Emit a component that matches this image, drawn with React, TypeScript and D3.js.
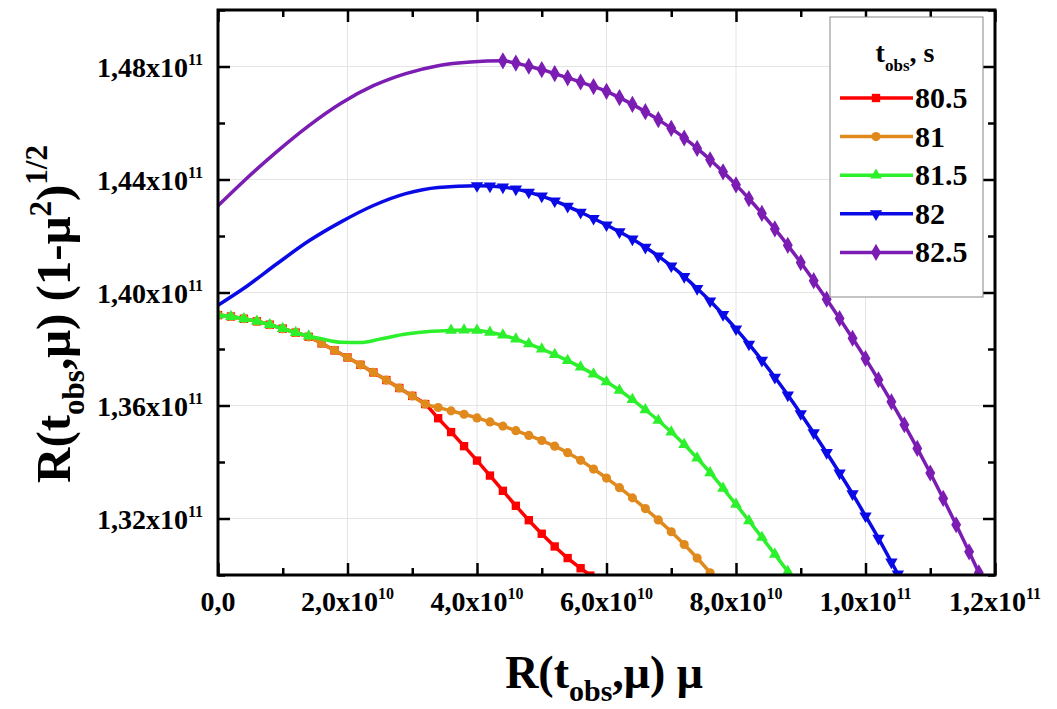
import React, { useEffect, useRef } from "react";
import * as d3 from "d3";

// t_obs of each curve, seconds
const tObs = ["80.5", "81", "81.5", "82", "82.5"];

// x = R(t_obs,mu) mu in units of 1e10, y = R(t_obs,mu) (1-mu^2)^1/2 in units of 1e11
const x805 = [0, 0.2, 0.4, 0.6, 0.8, 1.0, 1.2, 1.4, 1.6, 1.8, 2.0, 2.2, 2.4, 2.6, 2.8, 3.0, 3.2, 3.4, 3.6, 3.8, 4.0, 4.2, 4.4, 4.6, 4.8, 5.0, 5.2, 5.4, 5.6, 5.75];
const y805 = [1.392, 1.3915, 1.3907, 1.3898, 1.3886, 1.3872, 1.3858, 1.3843, 1.382, 1.3795, 1.377, 1.3744, 1.3717, 1.369, 1.3662, 1.3634, 1.3605, 1.3555, 1.3506, 1.3456, 1.3405, 1.3352, 1.3298, 1.3245, 1.3194, 1.3146, 1.3101, 1.306, 1.3024, 1.2998];

const x81 = [0, 0.2, 0.4, 0.6, 0.8, 1.0, 1.2, 1.4, 1.6, 1.8, 2.0, 2.2, 2.4, 2.6, 2.8, 3.0, 3.2, 3.4, 3.6, 3.8, 4.0, 4.2, 4.4, 4.6, 4.8, 5.0, 5.2, 5.4, 5.6, 5.8, 6.0, 6.2, 6.4, 6.6, 6.8, 7.0, 7.2, 7.4, 7.6, 7.7];
const y81 = [1.392, 1.3915, 1.3907, 1.3898, 1.3886, 1.3872, 1.3858, 1.3843, 1.382, 1.3795, 1.377, 1.3744, 1.3717, 1.369, 1.3662, 1.3634, 1.3605, 1.3593, 1.3581, 1.3569, 1.3556, 1.3542, 1.3527, 1.3511, 1.3494, 1.3476, 1.3456, 1.3433, 1.3406, 1.3375, 1.3343, 1.3309, 1.3273, 1.3235, 1.3195, 1.3153, 1.3108, 1.306, 1.3008, 1.298];

const x815 = [0, 0.2, 0.4, 0.6, 0.8, 1.0, 1.2, 1.4, 1.6, 1.9, 2.2, 2.5, 2.9, 3.3, 3.6, 3.8, 4.0, 4.2, 4.4, 4.6, 4.8, 5.0, 5.2, 5.4, 5.6, 5.8, 6.0, 6.2, 6.4, 6.6, 6.8, 7.0, 7.2, 7.4, 7.6, 7.8, 8.0, 8.2, 8.4, 8.6, 8.8, 8.9];
const y815 = [1.392, 1.3915, 1.3907, 1.3898, 1.3886, 1.3872, 1.3858, 1.3846, 1.3836, 1.3824, 1.3823, 1.3835, 1.3853, 1.3863, 1.3866, 1.3867, 1.3866, 1.3859, 1.3849, 1.3835, 1.3818, 1.38, 1.378, 1.3759, 1.3736, 1.3711, 1.3684, 1.3654, 1.3621, 1.3585, 1.3547, 1.3506, 1.3462, 1.3414, 1.3362, 1.3307, 1.325, 1.3192, 1.3133, 1.3073, 1.3012, 1.298];

const x82 = [0, 0.4, 0.9, 1.4, 1.9, 2.4, 2.9, 3.4, 4.0, 4.2, 4.4, 4.6, 4.8, 5.0, 5.2, 5.4, 5.6, 5.8, 6.0, 6.2, 6.4, 6.6, 6.8, 7.0, 7.2, 7.4, 7.6, 7.8, 8.0, 8.2, 8.4, 8.6, 8.8, 9.0, 9.2, 9.4, 9.6, 9.8, 10.0, 10.2, 10.4, 10.5, 10.55];
const y82 = [1.3955, 1.4015, 1.41, 1.4182, 1.425, 1.4308, 1.435, 1.4372, 1.4378, 1.4377, 1.4373, 1.4366, 1.4355, 1.4341, 1.4324, 1.4305, 1.4284, 1.4262, 1.4239, 1.4215, 1.4189, 1.416, 1.4129, 1.4094, 1.4056, 1.4014, 1.397, 1.3922, 1.3871, 1.3817, 1.376, 1.37, 1.3637, 1.3571, 1.3503, 1.3433, 1.3361, 1.3287, 1.3209, 1.313, 1.3046, 1.3003, 1.298];

const x825 = [0, 0.4, 0.9, 1.4, 1.9, 2.4, 2.9, 3.4, 3.9, 4.4, 4.6, 4.8, 5.0, 5.2, 5.4, 5.6, 5.8, 6.0, 6.2, 6.4, 6.6, 6.8, 7.0, 7.2, 7.4, 7.6, 7.8, 8.0, 8.2, 8.4, 8.6, 8.8, 9.0, 9.2, 9.4, 9.6, 9.8, 10.0, 10.2, 10.4, 10.6, 10.8, 11.0, 11.2, 11.4, 11.6, 11.75, 11.8];
const y825 = [1.4307, 1.4395, 1.4497, 1.459, 1.467, 1.4732, 1.4775, 1.4803, 1.4816, 1.482, 1.4812, 1.4801, 1.4789, 1.4775, 1.476, 1.4745, 1.4729, 1.4712, 1.469, 1.4666, 1.464, 1.4612, 1.4581, 1.4547, 1.451, 1.447, 1.4427, 1.4381, 1.4332, 1.428, 1.4225, 1.4167, 1.4106, 1.4042, 1.3976, 1.3908, 1.3838, 1.3766, 1.3691, 1.3613, 1.3532, 1.3448, 1.3361, 1.3271, 1.3178, 1.3082, 1.3008, 1.2984];

// x-ranges (1e10) where the curve carries symbols
const marks805 = [[0, 6]];
const marks81 = [[0, 7.65]];
const marks815 = [[0, 1.45], [3.55, 8.85]];
const marks82 = [[4.0, 10.5]];
const marks825 = [[4.4, 11.75]];

const xTicks = [0, 1, 2, 3, 4, 5, 6, 7, 8, 9, 10, 11, 12];
const xMajor = [0, 2, 4, 6, 8, 10, 12];
const yTicks = [1.3, 1.32, 1.34, 1.36, 1.38, 1.4, 1.42, 1.44, 1.46, 1.48, 1.5];
const yMajor = [1.32, 1.36, 1.4, 1.44, 1.48];

const colors = ["#ff0000", "#e08a1e", "#2cf02c", "#0a0ae6", "#7b1cb2"];

const FONT = "'Liberation Serif', 'Times New Roman', serif";

const App = () => {
  const svgRef = useRef<SVGSVGElement>(null);

  useEffect(() => {
    const svg = d3.select(svgRef.current);
    svg.selectAll("*").remove();

    const left = 218, right = 995, top = 10, bottom = 575;

    const x = d3.scaleLinear().domain([0, 12]).range([left, right]);
    const y = d3.scaleLinear().domain([1.3, 1.5]).range([bottom, top]);

    const g = svg.append("g").attr("font-family", FONT).attr("font-weight", "bold");

    // grid
    g.append("g")
      .selectAll("line")
      .data(xMajor.filter((v) => v > 0 && v < 12))
      .join("line")
      .attr("x1", (d) => x(d)).attr("x2", (d) => x(d))
      .attr("y1", top).attr("y2", bottom)
      .attr("stroke", "#e4e4e4").attr("stroke-width", 1);
    g.append("g")
      .selectAll("line")
      .data(yMajor)
      .join("line")
      .attr("y1", (d) => y(d)).attr("y2", (d) => y(d))
      .attr("x1", left).attr("x2", right)
      .attr("stroke", "#e4e4e4").attr("stroke-width", 1);

    // inward ticks on all four sides
    const tickAxis = (axis, pos, vals, len) => {
      const a = g.append("g").attr("transform", pos)
        .call(axis.tickValues(vals).tickSize(-len).tickFormat(() => ""));
      a.select(".domain").remove();
      a.selectAll("line").attr("stroke", "#000").attr("stroke-width", 2.5);
    };
    const xMinor = xTicks.filter((v) => !xMajor.includes(v));
    const yMinor = yTicks.filter((v) => !yMajor.includes(v));
    tickAxis(d3.axisBottom(x), `translate(0,${bottom})`, xMajor, 12);
    tickAxis(d3.axisBottom(x), `translate(0,${bottom})`, xMinor, 7);
    tickAxis(d3.axisTop(x), `translate(0,${top})`, xMajor, 12);
    tickAxis(d3.axisTop(x), `translate(0,${top})`, xMinor, 7);
    tickAxis(d3.axisLeft(y), `translate(${left},0)`, yMajor, 12);
    tickAxis(d3.axisLeft(y), `translate(${left},0)`, yMinor, 7);
    tickAxis(d3.axisRight(y), `translate(${right},0)`, yMajor, 12);
    tickAxis(d3.axisRight(y), `translate(${right},0)`, yMinor, 7);

    // tick labels like "2,0x10^10"
    const sci = (raw, digits) => {
      if (raw === 0) return ["0,0", ""];
      const e = Math.floor(Math.log10(raw) + 1e-9);
      const m = (raw / Math.pow(10, e)).toFixed(digits).replace(".", ",");
      return [m + "x10", String(e)];
    };
    xMajor.forEach((v) => {
      const [b, s] = sci(v * 1e10, 1);
      const t = g.append("text").attr("x", x(v)).attr("y", 611)
        .attr("text-anchor", "middle").attr("font-size", 28);
      t.append("tspan").text(b);
      if (s) t.append("tspan").attr("dy", -12).attr("font-size", 16).text(s);
    });
    yMajor.forEach((v) => {
      const [b, s] = sci(v * 1e11, 2);
      const t = g.append("text").attr("x", 203).attr("y", y(v) + 10)
        .attr("text-anchor", "end").attr("font-size", 28);
      t.append("tspan").text(b);
      t.append("tspan").attr("dy", -12).attr("font-size", 16).text(s);
    });

    // curves
    svg.append("defs").append("clipPath").attr("id", "plotClip")
      .append("rect").attr("x", left).attr("y", top)
      .attr("width", right - left).attr("height", bottom - top);

    const seriesX = [x805, x81, x815, x82, x825];
    const seriesY = [y805, y81, y815, y82, y825];
    const seriesMarks = [marks805, marks81, marks815, marks82, marks825];
    const symbols = [d3.symbolSquare, d3.symbolCircle, d3.symbolTriangle, d3.symbolTriangle, d3.symbolDiamond];
    const symSize = [70, 66, 60, 66, 85];
    const symRot = [0, 0, 0, 180, 0];

    const line = d3.line().x((d) => x(d[0])).y((d) => y(d[1])).curve(d3.curveMonotoneX);
    const plot = g.append("g").attr("clip-path", "url(#plotClip)");

    seriesX.forEach((xs, i) => {
      const pts = xs.map((v, j) => [v, seriesY[i][j]]);
      plot.append("path").attr("d", line(pts)).attr("fill", "none")
        .attr("stroke", colors[i]).attr("stroke-width", 3.5).attr("stroke-linejoin", "round");
      const marked = pts.filter((p) => seriesMarks[i].some((r) => p[0] >= r[0] && p[0] <= r[1]));
      plot.append("g").selectAll("path").data(marked).join("path")
        .attr("d", d3.symbol().type(symbols[i]).size(symSize[i]))
        .attr("transform", (d) => `translate(${x(d[0])},${y(d[1])}) rotate(${symRot[i]})`)
        .attr("fill", colors[i]);
    });

    // frame
    g.append("rect").attr("x", left).attr("y", top)
      .attr("width", right - left).attr("height", bottom - top)
      .attr("fill", "none").attr("stroke", "#000").attr("stroke-width", 3);

    // legend
    const lg = g.append("g");
    lg.append("rect").attr("x", 830).attr("y", 17).attr("width", 153).attr("height", 280)
      .attr("fill", "#fff").attr("stroke", "#888").attr("stroke-width", 1);
    const lt = lg.append("text").attr("x", 905).attr("y", 62).attr("text-anchor", "middle").attr("font-size", 28);
    lt.append("tspan").text("t");
    lt.append("tspan").attr("dy", 9).attr("font-size", 17).text("obs");
    lt.append("tspan").attr("dy", -9).text(", s");
    tObs.forEach((label, i) => {
      const ry = 98 + i * 38.6;
      lg.append("line").attr("x1", 840).attr("x2", 913).attr("y1", ry).attr("y2", ry)
        .attr("stroke", colors[i]).attr("stroke-width", 3.5);
      lg.append("path").attr("d", d3.symbol().type(symbols[i]).size(symSize[i]))
        .attr("transform", `translate(876,${ry}) rotate(${symRot[i]})`).attr("fill", colors[i]);
      lg.append("text").attr("x", 915).attr("y", ry + 10).attr("font-size", 30).text(label);
    });

    // axis titles
    const xt = g.append("text").attr("x", 604).attr("y", 688).attr("text-anchor", "middle").attr("font-size", 46);
    xt.append("tspan").text("R(t");
    xt.append("tspan").attr("dy", 13).attr("font-size", 30).text("obs");
    xt.append("tspan").attr("dy", -13).text(",\u03bc) \u03bc");

    const yt = g.append("text").attr("transform", "translate(70,314) rotate(-90)")
      .attr("text-anchor", "middle").attr("font-size", 49);
    yt.append("tspan").text("R(t");
    yt.append("tspan").attr("dy", 14).attr("font-size", 31).text("obs");
    yt.append("tspan").attr("dy", -14).text(",\u03bc) (1-\u03bc");
    yt.append("tspan").attr("dy", -19).attr("font-size", 31).text("2");
    yt.append("tspan").attr("dy", 19).text(")");
    yt.append("tspan").attr("dy", -23).attr("font-size", 31).text("1/2");
  }, []);

  return (
    <svg
      ref={svgRef}
      width={1057}
      height={709}
      style={{ position: "absolute", left: 0, top: 0, background: "#fff" }}
    />
  );
};

export default App;
